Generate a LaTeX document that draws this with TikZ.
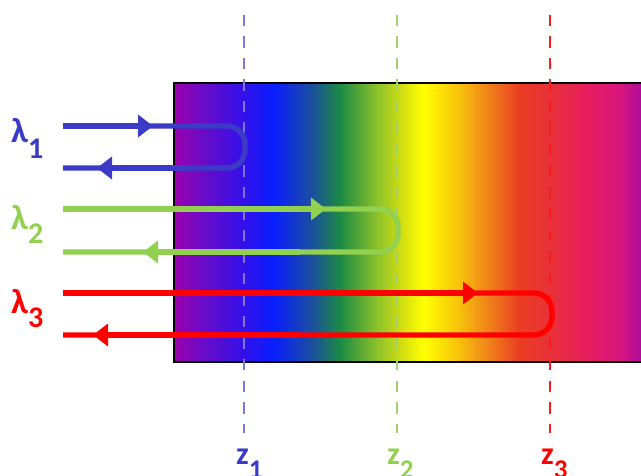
\documentclass[tikz,border=0pt]{standalone}
\usepackage{fontspec}
\setmainfont{Carlito}
\usetikzlibrary{arrows.meta}
\definecolor{lblue}{HTML}{3B3BC8}
\definecolor{lgreen}{HTML}{92D050}
\definecolor{lred}{HTML}{FF0000}
\definecolor{dblue}{HTML}{7878E0}
\definecolor{dgreen}{HTML}{9CD46C}
\definecolor{dred}{HTML}{FF1A1A}
\definecolor{g0}{HTML}{9C00AC}
\definecolor{g1}{HTML}{6A0CC8}
\definecolor{g2}{HTML}{3410EA}
\definecolor{g3}{HTML}{0A1EFF}
\definecolor{g4}{HTML}{1A4CA4}
\definecolor{g5}{HTML}{1B8A44}
\definecolor{g6}{HTML}{8CC22A}
\definecolor{g7}{HTML}{D6E012}
\definecolor{g8}{HTML}{FFFF00}
\definecolor{g9}{HTML}{F8C60A}
\definecolor{g10}{HTML}{F08418}
\definecolor{g11}{HTML}{EA3C22}
\definecolor{g12}{HTML}{E8303C}
\definecolor{g13}{HTML}{E61E60}
\definecolor{g14}{HTML}{D8167E}
\definecolor{g15}{HTML}{B00C9A}
\pgfdeclarehorizontalshading{rainbow}{100bp}{%
color(0bp)=(g0); color(25bp)=(g0); color(28.10bp)=(g1); color(32.39bp)=(g2);
color(35.60bp)=(g3); color(39.56bp)=(g4); color(42.77bp)=(g5); color(46.74bp)=(g6);
color(49.52bp)=(g7); color(51.66bp)=(g8); color(55.30bp)=(g9); color(58.51bp)=(g10);
color(62.05bp)=(g11); color(65.58bp)=(g12); color(69.22bp)=(g13); color(72.75bp)=(g14);
color(75bp)=(g15); color(100bp)=(g15)}
\begin{document}
\begin{tikzpicture}[x=1pt,y=-1pt,
  looppath/.style={line width=5.4pt, rounded corners=18pt},
  tipline/.style={line width=5.4pt, -{Triangle[length=15pt,width=22pt]}},
  zline/.style={line width=2.4pt, dash pattern=on 11.5pt off 10pt},
  lam/.style={anchor=base west, inner sep=0pt, font=\bfseries\fontsize{35}{35}\selectfont},
  zlab/.style={anchor=base west, inner sep=0pt, font=\bfseries\fontsize{32}{32}\selectfont}]
\useasboundingbox (0,0) rectangle (641,476);
% medium
\shade[shading=rainbow] (174,83) rectangle (641,362);
\draw[line width=1.6pt] (641,83) -- (174,83) -- (174,362) -- (641,362);
% depth markers
\coordinate (zt1) at (244,15);  \coordinate (zb1) at (244,433);
\coordinate (zt2) at (397,15);  \coordinate (zb2) at (397,433);
\coordinate (zt3) at (550,15);  \coordinate (zb3) at (550,433);
\draw[zline, dblue] (zt1) -- (zb1);
\draw[zline, dgreen] (zt2) -- (zb2);
\draw[zline, dred] (zt3) -- (zb3);
% lambda 1
\coordinate (s1) at (63,126); \coordinate (r1) at (245,168); \coordinate (e1) at (63,168);
\coordinate (a1) at (153,126); \coordinate (m1) at (190,168); \coordinate (b1) at (97,168);
\draw[looppath, lblue] (s1) -| (r1) -- (e1);
\draw[tipline, lblue] (s1) -- (a1);
\draw[tipline, lblue] (m1) -- (b1);
% lambda 2
\coordinate (s2) at (63,209); \coordinate (r2) at (398,252); \coordinate (e2) at (63,252);
\coordinate (a2) at (326,209); \coordinate (m2) at (300,252); \coordinate (b2) at (143,252);
\draw[looppath, lgreen] (s2) -| (r2) -- (e2);
\draw[tipline, lgreen] (s2) -- (a2);
\draw[tipline, lgreen] (m2) -- (b2);
% lambda 3
\coordinate (s3) at (63,293); \coordinate (r3) at (552,335); \coordinate (e3) at (63,335);
\coordinate (a3) at (478,293); \coordinate (m3) at (300,335); \coordinate (b3) at (93,335);
\draw[looppath, lred] (s3) -| (r3) -- (e3);
\draw[tipline, lred] (s3) -- (a3);
\draw[tipline, lred] (m3) -- (b3);
% labels
\node[lam, text=lblue] (L1) at (11,143) {λ\raisebox{-16pt}{\fontsize{30}{30}\selectfont 1}};
\node[lam, text=lgreen] (L2) at (11,230) {λ\raisebox{-14pt}{\fontsize{30}{30}\selectfont 2}};
\node[lam, text=lred] (L3) at (11,313) {λ\raisebox{-14pt}{\fontsize{30}{30}\selectfont 3}};
\node[zlab, text=lblue] (Z1) at (236,464) {z\raisebox{-15pt}{\fontsize{27}{27}\selectfont 1}};
\node[zlab, text=lgreen] (Z2) at (387,464) {z\raisebox{-15pt}{\fontsize{27}{27}\selectfont 2}};
\node[zlab, text=lred] (Z3) at (541,464) {z\raisebox{-15pt}{\fontsize{27}{27}\selectfont 3}};
\end{tikzpicture}
\end{document}
